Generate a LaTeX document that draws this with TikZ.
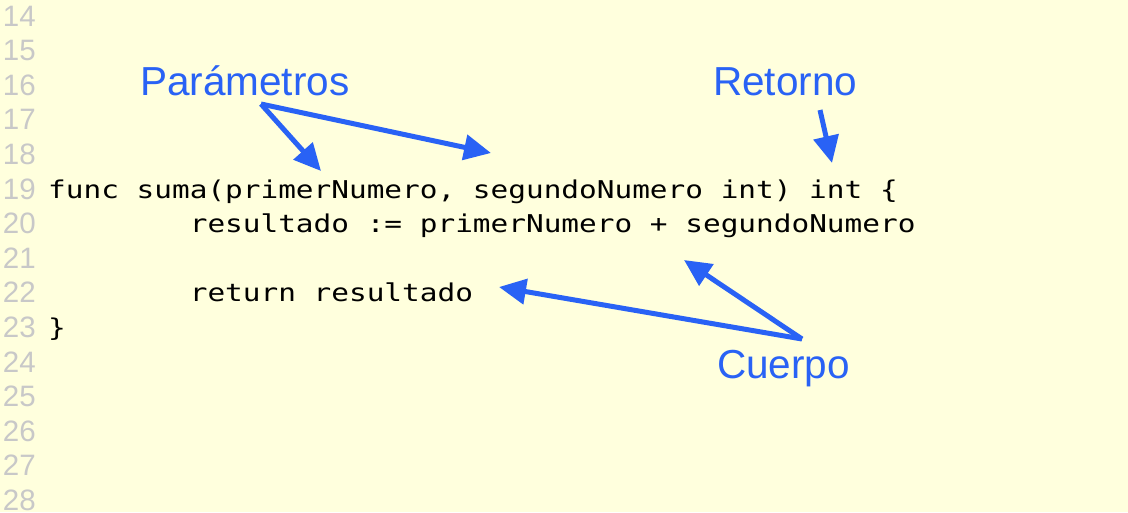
\documentclass[tikz,border=0pt]{standalone}
\usepackage{fontspec}
\usetikzlibrary{arrows.meta}
\newfontfamily\codefont[FakeStretch=1.20]{DejaVu Sans Mono}
\newfontfamily\labfont{Liberation Sans}
\definecolor{bgyellow}{RGB}{255,255,221}
\definecolor{lnumgray}{RGB}{200,200,200}
\definecolor{annblue}{RGB}{41,98,245}
\tikzset{
  lnum/.style={anchor=base east, inner sep=0pt, text=lnumgray, font=\labfont\fontsize{29.5}{30}\selectfont},
  code/.style={anchor=base west, inner sep=0pt, text=black, font=\codefont\fontsize{24.5}{30}\selectfont},
  ann/.style={anchor=base west, inner sep=0pt, text=annblue, font=\labfont\fontsize{40.5}{44}\selectfont},
  annarrow/.style={draw=annblue, line width=5pt, -{Triangle[length=27pt,width=25pt]}, fill=annblue},
}
\begin{document}
\begin{tikzpicture}[x=1pt,y=-1pt]
\fill[bgyellow] (0,0) rectangle (1128,512);
\useasboundingbox (0,0) rectangle (1128,512);
% line numbers
\foreach \n [count=\i from 0] in {14,...,28} {
  \node[lnum] (ln\n) at (36, 26+\i*34.6) {\n};
}
% code
\node[code] (c19) at (48, 198) {func suma(primerNumero, segundoNumero int) int \{};
\node[code] (c20) at (189.6, 232.6) {resultado := primerNumero + segundoNumero};
\node[code] (c22) at (189.6, 301.8) {return resultado};
\node[code] (c23) at (48, 336.4) {\}};
% labels
\node[ann] (param) at (140, 95) {Parámetros};
\node[ann] (ret) at (713, 95) {Retorno};
\node[ann] (body) at (717, 378) {Cuerpo};
% arrow endpoints
\coordinate (pstart) at (261,104);
\coordinate (ptip1) at (321,171);
\coordinate (ptip2) at (491,153);
\coordinate (rstart) at (820,110);
\coordinate (rtip) at (832,163);
\coordinate (bstart) at (802,339);
\coordinate (btip1) at (499,287);
\coordinate (btip2) at (684,260);
\draw[annarrow] (pstart) -- (ptip1);
\draw[annarrow] (pstart) -- (ptip2);
\draw[annarrow] (rstart) -- (rtip);
\draw[annarrow] (bstart) -- (btip1);
\draw[annarrow] (bstart) -- (btip2);
\end{tikzpicture}
\end{document}
